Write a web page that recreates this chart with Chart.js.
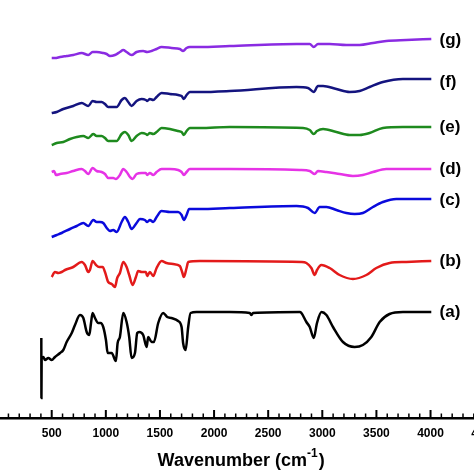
<!DOCTYPE html>
<html>
<head>
<meta charset="utf-8">
<script src="https://cdn.jsdelivr.net/npm/chart.js@4/dist/chart.umd.min.js"></script>
<style>
  html, body { margin: 0; padding: 0; background: #fff; overflow: hidden; width: 474px; height: 474px; }
  #c { position: absolute; left: -20px; top: 0; }
</style>
</head>
<body>
<canvas id="c" width="526" height="474"></canvas>
<script>
// ---- data (wavenumber in cm-1, intensity in arbitrary stacked units) ----
const waveA = [404,405,407,422,438,469,500,530,577,607,638,685,715,761,792,823,847,863,878,900,930,952,976,1001,1017,1054,1093,1109,1130,1161,1192,1216,1238,1269,1290,1308,1345,1377,1391,1423,1444,1484,1530,1567,1607,1668,1700,1714,1737,1761,1783,1838,2145,2330,2346,2360,2791,2807,2853,2884,2921,2951,2992,3038,3099,3191,3299,3375,3453,3530,3621,3745,3868,4007];
const valA  = [80,20,60,61,58,60,58,61,65,68,76,85,93,103,100,86,83,95,105,100,95,95,91,78,65,65,57,75,81,105,96,81,60,65,85,86,83,71,81,76,76,95,105,101,100,97,91,75,68,91,105,106,106,105,103,105,106,105,96,91,80,95,106,103,91,76,71,73,81,96,104,106,106,106];

const waveB = [500,530,561,592,623,699,777,807,838,853,878,909,939,971,992,1022,1054,1084,1105,1130,1161,1192,1216,1247,1278,1299,1331,1370,1382,1407,1438,1469,1515,1561,1622,1684,1705,1721,1746,1761,1869,2807,2853,2899,2930,2951,2992,3068,3160,3283,3407,3499,3622,3776,4007];
const valB  = [141,146,145,146,148,151,156,153,146,148,157,153,151,151,146,136,134,131,140,145,156,151,143,133,141,147,146,146,142,146,142,150,157,155,154,152,146,141,150,156,157,156,155,150,143,148,153,150,143,139,143,150,155,156,157];

const waveC = [500,546,592,669,731,792,838,884,915,946,976,1008,1038,1068,1100,1146,1176,1207,1238,1284,1315,1361,1382,1407,1438,1469,1515,1592,1668,1700,1721,1746,1770,1869,2145,2761,2868,2930,2976,3038,3130,3222,3299,3375,3468,3560,3684,3837,4007];
const valC  = [181,183,185,189,192,195,192,198,196,196,195,190,187,188,186,196,201,196,189,195,199,198,196,198,196,201,207,206,206,203,198,203,209,209,210,212,210,205,211,211,208,205,204,205,211,216,219,219,219];

const waveD = [500,521,540,577,638,699,777,807,838,878,915,961,992,1022,1068,1093,1130,1161,1192,1223,1247,1284,1331,1370,1382,1407,1438,1469,1515,1592,1668,1700,1721,1746,1776,1869,2145,2791,2884,2930,2960,3038,3160,3283,3375,3468,3591,3745,4007];
const valD  = [246,247,243,244,245,247,249,247,244,250,247,246,244,240,240,239,243,249,246,241,239,244,245,245,243,245,243,246,249,249,248,246,243,246,249,249,249,248,247,244,247,246,244,242,243,246,249,249,249];

const waveE = [500,546,607,669,731,792,838,884,915,961,992,1022,1068,1100,1146,1176,1207,1238,1284,1331,1370,1382,1407,1438,1469,1515,1592,1668,1700,1721,1746,1776,1869,2145,2822,2884,2921,2951,3007,3130,3253,3345,3437,3560,3745,4007];
const valE  = [273,275,276,279,281,282,280,284,282,282,280,277,277,277,284,286,283,277,282,285,284,283,285,284,286,290,289,287,286,283,287,290,290,291,290,288,284,287,289,286,283,283,285,290,291,291];

const waveF = [500,546,607,699,777,838,878,915,961,992,1022,1068,1100,1146,1176,1207,1238,1284,1331,1370,1382,1407,1438,1469,1515,1592,1668,1700,1721,1746,1776,1869,2145,2761,2868,2921,2960,3007,3130,3253,3345,3437,3560,3745,4007];
const valF  = [305,306,309,312,315,312,317,316,316,314,311,311,311,318,320,316,312,317,319,318,317,319,318,321,325,324,323,322,319,323,326,326,327,331,330,326,332,332,329,326,327,331,336,339,339];

const waveG = [500,530,577,638,699,777,838,878,915,976,1008,1038,1084,1130,1161,1192,1238,1284,1345,1382,1423,1469,1515,1607,1684,1714,1746,1776,1869,2145,2761,2884,2921,2960,3068,3222,3345,3468,3591,3776,4007];
const valG  = [360,360,361,362,363,365,363,366,366,365,364,362,363,366,368,366,363,366,367,366,367,369,371,370,369,367,370,371,371,372,374,374,371,374,374,373,373,375,377,378,379];

const seriesNames  = ['(a)','(b)','(c)','(d)','(e)','(f)','(g)'];
const seriesColors = ['#000000','#E31A1A','#0A0ADC','#E633E6','#1E8A1E','#14147F','#8A2BE2'];
const labelY = [106,157,218,249,291,336,378];
const labelX = 4083;
const xTickStep = 500;
const xMinorStep = 100;
const xMin = 0, xMax = 4500;
const xTitle = 'Wavenumber (cm';
const xTitleSup = '-1';

const waves = [waveA,waveB,waveC,waveD,waveE,waveF,waveG];
const vals  = [valA,valB,valC,valD,valE,valF,valG];

const datasets = waves.map((w,i)=>({
  label: seriesNames[i],
  data: w.map((x,j)=>({x:x, y:vals[i][j]})),
  borderColor: seriesColors[i],
  backgroundColor: seriesColors[i],
  borderWidth: 2.5,
  pointRadius: 0,
  cubicInterpolationMode: 'monotone',
  fill: false
}));

const FONT = '"Liberation Sans", Arial, sans-serif';

const ftirDecor = {
  id: 'ftirDecor',
  afterDraw(chart) {
    const {ctx, chartArea} = chart;
    const x = chart.scales.x, y = chart.scales.y;
    ctx.save();
    ctx.strokeStyle = '#000';
    for (let v = xMin; v <= xMax; v += xMinorStep) {
      const px = x.getPixelForValue(v);
      const major = v % xTickStep === 0;
      ctx.lineWidth = major ? 2 : 1.5;
      ctx.beginPath();
      ctx.moveTo(px, chartArea.bottom);
      ctx.lineTo(px, chartArea.bottom - (major ? 8 : 4.5));
      ctx.stroke();
    }
    ctx.fillStyle = '#000';
    ctx.textBaseline = 'middle';
    ctx.textAlign = 'left';
    ctx.font = 'bold 17px ' + FONT;
    seriesNames.forEach((t,i)=>{
      ctx.fillText(t, x.getPixelForValue(labelX), y.getPixelForValue(labelY[i]));
    });
    // axis title with superscript
    const fMain = 'bold 18px ' + FONT, fSup = 'bold 12px ' + FONT;
    ctx.textBaseline = 'alphabetic';
    ctx.font = fMain;
    const w1 = ctx.measureText(xTitle).width;
    const w3 = ctx.measureText(')').width;
    ctx.font = fSup;
    const w2 = ctx.measureText(xTitleSup).width;
    const total = w1 + w2 + w3 + 1;
    const cx = (chartArea.left + chartArea.right) / 2;
    let sx = cx - total / 2;
    const base = chartArea.bottom + 48;
    ctx.font = fMain;
    ctx.fillText(xTitle, sx, base);
    sx += w1;
    ctx.font = fSup;
    ctx.fillText(xTitleSup, sx, base - 9);
    sx += w2 + 1;
    ctx.font = fMain;
    ctx.fillText(')', sx, base);
    ctx.restore();
  }
};

const bgPlugin = {
  id: 'bg',
  beforeDraw(chart) {
    const ctx = chart.ctx;
    ctx.save();
    ctx.fillStyle = '#fff';
    ctx.fillRect(0,0,chart.width,chart.height);
    ctx.restore();
  }
};

new Chart(document.getElementById('c'), {
  type: 'line',
  data: { datasets },
  options: {
    responsive: false,
    animation: false,
    devicePixelRatio: 1,
    layout: { padding: { left: 17.6, right: 20.6, top: 0, bottom: 25.6 } },
    plugins: { legend: { display: false }, tooltip: { enabled: false } },
    scales: {
      x: {
        type: 'linear',
        min: xMin, max: xMax,
        grid: { display: true, drawOnChartArea: false, drawTicks: false },
        border: { display: true, color: '#000', width: 2.5 },
        ticks: {
          stepSize: xTickStep,
          autoSkip: false,
          maxRotation: 0,
          padding: 8,
          color: '#000',
          font: { family: FONT, size: 12, weight: 'bold' },
          callback: v => v === 0 ? '' : String(v)
        }
      },
      y: { type: 'linear', min: 0, max: 418, display: false }
    }
  },
  plugins: [bgPlugin, ftirDecor]
});
</script>
</body>
</html>
